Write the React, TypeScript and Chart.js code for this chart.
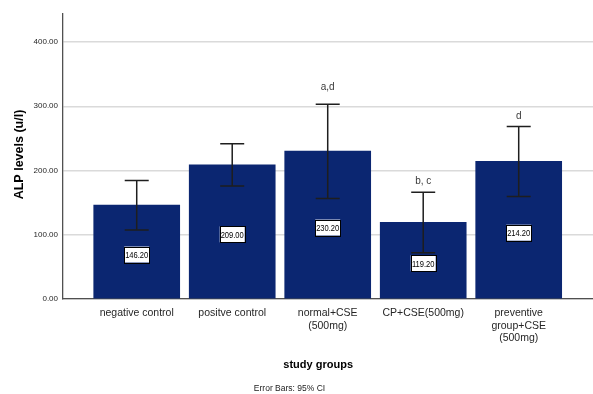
import React, { useEffect, useRef } from "react";
import { Chart, registerables } from "chart.js";

Chart.register(...registerables);

const categories: string[][] = [
  ["negative control"],
  ["positve control"],
  ["normal+CSE", "(500mg)"],
  ["CP+CSE(500mg)"],
  ["preventive", "group+CSE", "(500mg)"],
];
const means = [146.2, 209.0, 230.2, 119.2, 214.2];
const ciUpper = [184.5, 241.5, 303.0, 166.0, 268.5];
const ciLower = [107.5, 176.0, 156.5, 72.0, 159.5];
const sigLetters = ["", "", "a,d", "b, c", "d"];
const sigLetterAt = [0, 0, 329, 183, 285];
const yTicks = [0, 100, 200, 300, 400];

const SANS = "'Liberation Sans', Arial, sans-serif";

const annotationsPlugin = {
  id: "annotations",
  afterDatasetsDraw(chart: any) {
    const { ctx, scales, chartArea } = chart;
    const xs = scales.x;
    const ys = scales.y;
    ctx.save();
    // error bars
    ctx.strokeStyle = "#1e1e1e";
    ctx.lineWidth = 1.5;
    means.forEach((_, i) => {
      const x = xs.getPixelForValue(i);
      const yu = ys.getPixelForValue(ciUpper[i]);
      const yl = ys.getPixelForValue(ciLower[i]);
      ctx.beginPath();
      ctx.moveTo(x, yu);
      ctx.lineTo(x, yl);
      ctx.moveTo(x - 12, yu);
      ctx.lineTo(x + 12, yu);
      ctx.moveTo(x - 12, yl);
      ctx.lineTo(x + 12, yl);
      ctx.stroke();
    });
    // value boxes
    ctx.textAlign = "center";
    ctx.textBaseline = "middle";
    means.forEach((v, i) => {
      const x = xs.getPixelForValue(i);
      const y = ys.getPixelForValue(v / 2) + 2.5;
      const txt = v.toFixed(2);
      const w = 25;
      const h = 16;
      ctx.fillStyle = "#ffffff";
      ctx.fillRect(x - w / 2, y - h / 2, w, h);
      ctx.strokeStyle = "#000000";
      ctx.lineWidth = 1;
      ctx.strokeRect(Math.round(x - w / 2) + 0.5, Math.round(y - h / 2) + 0.5, w, h);
      ctx.fillStyle = "#000000";
      ctx.save();
      ctx.translate(x, y + 1);
      ctx.scale(0.84, 1);
      ctx.font = `9px ${SANS}`;
      ctx.fillText(txt, 0, 0);
      ctx.restore();
    });
    // significance letters
    ctx.font = `10px ${SANS}`;
    ctx.fillStyle = "#3a3a3a";
    sigLetters.forEach((s, i) => {
      if (!s) return;
      const x = xs.getPixelForValue(i);
      const y = ys.getPixelForValue(sigLetterAt[i]);
      ctx.fillText(s, x, y);
    });
    // titles
    ctx.fillStyle = "#000000";
    ctx.font = `bold 12.5px ${SANS}`;
    ctx.save();
    ctx.translate(20, (chartArea.top + chartArea.bottom) / 2 - 2);
    ctx.rotate(-Math.PI / 2);
    ctx.fillText("ALP levels (u/l)", 0, 0);
    ctx.restore();
    ctx.font = `bold 11px ${SANS}`;
    ctx.fillText("study groups", xs.getPixelForValue(1.9), chartArea.bottom + 66);
    ctx.font = `8.5px ${SANS}`;
    ctx.fillStyle = "#222222";
    ctx.fillText("Error Bars: 95% CI", xs.getPixelForValue(1.6), chartArea.bottom + 90);
    ctx.restore();
  },
};

export default function App() {
  const ref = useRef<HTMLCanvasElement | null>(null);
  useEffect(() => {
    document.body.style.margin = "0";
    if (!ref.current) return;
    const chart = new Chart(ref.current, {
      type: "bar",
      data: {
        datasets: [
          {
            data: means.map((m, i) => ({ x: i, y: m })),
            backgroundColor: "#0b2671",
            borderWidth: 0,
            barThickness: 86,
          },
        ],
      },
      options: {
        animation: false,
        responsive: false,
        layout: { padding: { top: 14, left: 0, right: 0, bottom: 0 } },
        plugins: { legend: { display: false }, tooltip: { enabled: false } },
        scales: {
          x: {
            type: "linear",
            offset: false,
            min: -0.772,
            max: 4.778,
            afterFit: (s: any) => {
              s.height = 95;
            },
            afterBuildTicks: (s: any) => {
              s.ticks = categories.map((_, i) => ({ value: i }));
            },
            grid: { display: false, drawTicks: false },
            border: { display: true, color: "#505050", width: 1.3 },
            ticks: {
              padding: 8,
              maxRotation: 0,
              autoSkip: false,
              color: "#262626",
              font: { family: SANS, size: 10.5, lineHeight: 1.2 },
              callback: (v: any) => categories[v as number] ?? "",
            },
          },
          y: {
            min: 0,
            max: 443.6,
            afterFit: (s: any) => {
              s.width = 63;
            },
            afterBuildTicks: (s: any) => {
              s.ticks = yTicks.map((v) => ({ value: v }));
            },
            grid: { color: "#dadada", lineWidth: 1.5, drawTicks: false },
            border: { display: true, color: "#505050", width: 1.3 },
            ticks: {
              padding: 5,
              color: "#262626",
              font: { family: SANS, size: 8 },
              callback: (v: any) => Number(v).toFixed(2),
            },
          },
        },
      },
      plugins: [annotationsPlugin],
    });
    return () => chart.destroy();
  }, []);
  return (
    <div style={{ width: 593, height: 394 }}>
      <canvas ref={ref} width={593} height={394} />
    </div>
  );
}
